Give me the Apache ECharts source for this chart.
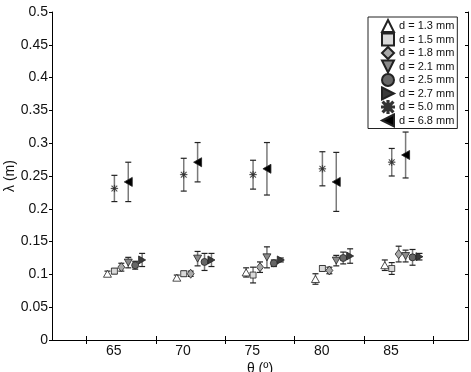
<!DOCTYPE html>
<html lang="en">
<head>
    <meta charset="UTF-8">
    <title>lambda vs theta</title>
    <script src="https://cdn.jsdelivr.net/npm/echarts@6/dist/echarts.min.js"></script>
</head>
<body style="margin:0;padding:0;background:#fff;">
<div id="main" style="width:471px;height:372px;"></div>
<script>
    // angle groups (x tick labels) and y ticks
    var theta = [65, 70, 75, 80, 85];
    var yTicks = [0, 0.05, 0.1, 0.15, 0.2, 0.25, 0.3, 0.35, 0.4, 0.45, 0.5];

    // lambda (m) and error for each drop diameter
    var lam13 = [0.101, 0.095, 0.103, 0.093, 0.114];
    var err13 = [0.004, 0.004, 0.007, 0.008, 0.008];
    var lam15 = [0.105, 0.101, 0.099, 0.109, 0.109];
    var err15 = [0.004, 0.004, 0.012, 0.004, 0.009];
    var lam18 = [0.111, 0.101, 0.111, 0.106, 0.131];
    var err18 = [0.006, 0.004, 0.008, 0.005, 0.012];
    var lam21 = [0.118, 0.124, 0.126, 0.121, 0.128];
    var err21 = [0.008, 0.011, 0.016, 0.008, 0.009];
    var lam25 = [0.114, 0.119, 0.117, 0.125, 0.126];
    var err25 = [0.006, 0.013, 0.005, 0.009, 0.012];
    var lam27 = [0.122, 0.122, 0.122, 0.128, 0.127];
    var err27 = [0.010, 0.010, 0.003, 0.011, 0.005];
    var lam50 = [0.231, 0.252, 0.252, 0.261, 0.271];
    var err50 = [0.020, 0.025, 0.022, 0.026, 0.021];
    var lam68 = [0.241, 0.271, 0.261, 0.241, 0.282];
    var err68 = [0.030, 0.030, 0.040, 0.045, 0.035];

    var STAR = 'path://M9,0 L11,0 L11,20 L9,20 Z M0,9 L20,9 L20,11 L0,11 Z ' +
        'M1.4,2.8 L2.8,1.4 L18.6,17.2 L17.2,18.6 Z M17.2,1.4 L18.6,2.8 L2.8,18.6 L1.4,17.2 Z';
    var TRI_UP = 'path://M5,0 L10,10 L0,10 Z';
    var TRI_DOWN = 'path://M0,0 L10,0 L5,10 Z';
    var TRI_RIGHT = 'path://M0,0 L10,5 L0,10 Z';
    var TRI_LEFT = 'path://M10,0 L0,5 L10,10 Z';

    var groups = [
        {name: 'd = 1.3 mm', lam: lam13, err: err13, shift: -1.0, symbol: TRI_UP, size: [8, 7], fill: '#ffffff'},
        {name: 'd = 1.5 mm', lam: lam15, err: err15, shift: -0.5, symbol: 'rect', size: [6, 6], fill: '#d9d9d9'},
        {name: 'd = 1.8 mm', lam: lam18, err: err18, shift: 0.0, symbol: 'diamond', size: [7, 9], fill: '#a8a8a8'},
        {name: 'd = 2.1 mm', lam: lam21, err: err21, shift: 0.5, symbol: TRI_DOWN, size: [8, 7], fill: '#8a8a8a'},
        {name: 'd = 2.5 mm', lam: lam25, err: err25, shift: 1.0, symbol: 'circle', size: [7, 7], fill: '#666666'},
        {name: 'd = 2.7 mm', lam: lam27, err: err27, shift: 1.5, symbol: TRI_RIGHT, size: [7, 8], fill: '#3a3a3a'},
        {name: 'd = 5.0 mm', lam: lam50, err: err50, shift: -0.5, symbol: STAR, size: [7, 7], fill: '#333333'},
        {name: 'd = 6.8 mm', lam: lam68, err: err68, shift: 0.5, symbol: TRI_LEFT, size: [8, 9], fill: '#000000'}
    ];

    function renderErrorBar(params, api) {
        var x = api.value(0);
        var lo = api.coord([x, api.value(1)]);
        var hi = api.coord([x, api.value(2)]);
        var w = 3;
        return {
            type: 'group',
            children: [
                {type: 'line', shape: {x1: lo[0], y1: lo[1], x2: hi[0], y2: hi[1]},
                    style: {stroke: '#7a7a7a', lineWidth: 1.5}},
                {type: 'line', shape: {x1: lo[0] - w, y1: lo[1], x2: lo[0] + w, y2: lo[1]},
                    style: {stroke: '#222', lineWidth: 1.2}},
                {type: 'line', shape: {x1: hi[0] - w, y1: hi[1], x2: hi[0] + w, y2: hi[1]},
                    style: {stroke: '#222', lineWidth: 1.2}}
            ]
        };
    }

    var series = [];
    groups.forEach(function (g) {
        var bars = [];
        var pts = [];
        for (var i = 0; i < theta.length; i++) {
            var x = theta[i] + g.shift;
            bars.push([x, g.lam[i] - g.err[i], g.lam[i] + g.err[i]]);
            pts.push([x, g.lam[i]]);
        }
        series.push({
            type: 'custom',
            renderItem: renderErrorBar,
            encode: {x: 0, y: [1, 2]},
            data: bars,
            z: 1,
            silent: true
        });
        series.push({
            name: g.name,
            type: 'scatter',
            symbol: g.symbol,
            symbolSize: g.size,
            itemStyle: {
                color: g.fill,
                borderColor: g.symbol === STAR ? g.fill : '#222',
                borderWidth: g.symbol === STAR ? 0.3 : 0.8,
                opacity: 1
            },
            data: pts,
            z: 3
        });
    });

    var font = '"Liberation Sans", Arial, sans-serif';
    var xCommon = {
        type: 'value', min: 60, max: 90,
        axisLine: {lineStyle: {color: '#000', width: 1}},
        splitLine: {show: false}
    };
    var yCommon = {
        type: 'value', min: 0, max: 0.5, interval: 0.05,
        axisLine: {show: true, lineStyle: {color: '#000', width: 1}},
        splitLine: {show: false}
    };

    var chart = echarts.init(document.getElementById('main'));
    chart.setOption({
        animation: false,
        backgroundColor: '#fff',
        grid: {left: 52, top: 12, right: 3, bottom: 32, outerBoundsMode: 'none', containLabel: false},
        legend: {
            orient: 'vertical',
            left: 368,
            top: 17,
            padding: [2, 3, 1, 13],
            itemWidth: 12,
            itemHeight: 12,
            itemGap: -0.5,
            itemTextGap: 13,
            backgroundColor: '#fff',
            borderColor: '#222',
            borderWidth: 1,
            borderRadius: 0,
            textStyle: {fontFamily: font, fontSize: 11, lineHeight: 12, color: '#111'},
            data: groups.map(function (g) { return {name: g.name, icon: g.symbol}; })
        },
        xAxis: [
            Object.assign({}, xCommon, {
                position: 'bottom',
                name: 'θ (º)',
                nameLocation: 'middle',
                nameGap: 22,
                nameMoveOverlap: false,
                nameTextStyle: {fontFamily: font, fontSize: 14, color: '#111'},
                axisTick: {inside: true, length: 4, lineStyle: {color: '#000'},
                    customValues: [62.5, 67.5, 72.5, 77.5, 82.5, 87.5]},
                axisLabel: {fontFamily: font, fontSize: 14, color: '#111', margin: 4,
                    customValues: theta.map(function (t) { return t - 0.55; }),
                    formatter: function (v) { return String(Math.round(v + 0.55)); }}
            }),
            Object.assign({}, xCommon, {
                position: 'top',
                axisTick: {inside: true, length: 4, lineStyle: {color: '#000'},
                    customValues: [62.5, 67.5, 72.5, 77.5, 82.5, 87.5]},
                axisLabel: {show: false}
            })
        ],
        yAxis: [
            Object.assign({}, yCommon, {
                position: 'left',
                name: 'λ (m)',
                nameLocation: 'middle',
                nameGap: 35,
                nameMoveOverlap: false,
                nameTextStyle: {fontFamily: font, fontSize: 14, color: '#111'},
                axisTick: {inside: false, length: 3, lineStyle: {color: '#000'}},
                axisLabel: {fontFamily: font, fontSize: 14, color: '#111', margin: 4,
                    customValues: yTicks}
            }),
            Object.assign({}, yCommon, {
                position: 'right',
                axisTick: {inside: true, length: 3, lineStyle: {color: '#000'}},
                axisLabel: {show: false}
            })
        ],
        series: series
    });
</script>
</body>
</html>
